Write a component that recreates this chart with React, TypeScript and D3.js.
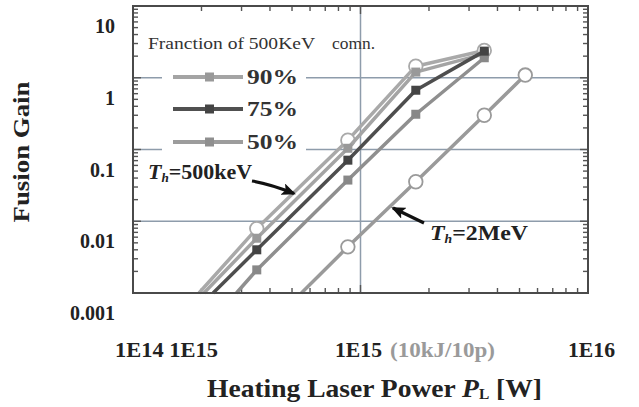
import * as d3 from 'd3';

// power [W] of the computed points
const POWER_500 = [3.5e14, 8.8e14, 1.75e15, 3.5e15];
const POWER_2MEV = [8.8e14, 1.75e15, 3.5e15, 5.3e15];

// fusion gain
const GAIN_REF = [0.0079, 0.135, 1.45, 2.4]; // open circles, 500keV
const GAIN_90 = [0.0058, 0.104, 1.2, 2.15];
const GAIN_75 = [0.004, 0.071, 0.67, 2.35];
const GAIN_50 = [0.0021, 0.0375, 0.31, 1.9];
const GAIN_2MEV = [0.0044, 0.0355, 0.3, 1.09];

// where each curve leaves the bottom of the frame (gain = 0.001)
const ENTRY_POWER = [1.95e14, 2.05e14, 2.25e14, 2.85e14, 5.5e14];
const FLOOR_GAIN = 0.001;

const Y_TICKS = [10, 1, 0.1, 0.01, 0.001];
const Y_TICK_LABELS = ['10', '1', '0.1', '0.01', '0.001'];
const Y_GRID = [1, 0.1, 0.01];
const X_GRID = [1e15];
const LEGEND_LABELS = ['90%', '75%', '50%'];

const W = 639;
const H = 407;
const M = { left: 133, top: 6, right: 588, bottom: 293 };
const FONT = '"Liberation Serif", "Times New Roman", serif';

const x = d3.scaleLog().domain([1e14, 1e16]).range([M.left, M.right]);
const y = d3.scaleLog().domain([0.001, 10]).range([M.bottom, M.top]);

type Pt = { p: number; g: number };
const line = d3
  .line<Pt>()
  .x((d) => x(d.p))
  .y((d) => y(d.g));

const SERIES = [
  { key: 'ref', power: POWER_500, gain: GAIN_REF, entry: ENTRY_POWER[0], color: '#a9a9a9', marker: 'circle', mfill: '#fff' },
  { key: 'g90', power: POWER_500, gain: GAIN_90, entry: ENTRY_POWER[1], color: '#a4a4a4', marker: 'square', mfill: '#999' },
  { key: 'g50', power: POWER_500, gain: GAIN_50, entry: ENTRY_POWER[3], color: '#8f8f8f', marker: 'square', mfill: '#888' },
  { key: 'g75', power: POWER_500, gain: GAIN_75, entry: ENTRY_POWER[2], color: '#4e4e4e', marker: 'square', mfill: '#444' },
  { key: 'mev2', power: POWER_2MEV, gain: GAIN_2MEV, entry: ENTRY_POWER[4], color: '#9a9a9a', marker: 'circle', mfill: '#fff' },
];

const LEGEND_STYLE = [
  { color: '#a4a4a4', mfill: '#999' },
  { color: '#505050', mfill: '#444' },
  { color: '#9c9c9c', mfill: '#8f8f8f' },
];

function Marker({ cx, cy, kind, fill, stroke }: any) {
  if (kind === 'circle') {
    return <circle cx={cx} cy={cy} r={6.8} fill={fill} stroke={stroke} strokeWidth={1.8} />;
  }
  return <rect x={cx - 4.5} y={cy - 4.5} width={9} height={9} fill={fill} />;
}

export default function App() {
  const xTicks = x.ticks();
  const yTicks = y.ticks();
  const isMajor = (v: number) => Math.abs(Math.log10(v) - Math.round(Math.log10(v))) < 1e-6;

  return (
    <svg
      width={W}
      height={H}
      style={{ position: 'absolute', left: 0, top: 0, background: '#fff' }}
      fontFamily={FONT}
    >
      <defs>
        <marker
          id="head"
          viewBox="0 0 14 12"
          refX="12"
          refY="6"
          markerUnits="userSpaceOnUse"
          markerWidth="14"
          markerHeight="12"
          orient="auto"
        >
          <path d="M0,0 L14,6 L0,12 L3,6 z" fill="#111" />
        </marker>
      </defs>

      {/* grid */}
      {Y_GRID.map((v) => (
        <line key={'gy' + v} x1={M.left} x2={M.right} y1={y(v)} y2={y(v)} stroke="#8e9cab" strokeWidth={1.5} />
      ))}
      {X_GRID.map((v) => (
        <line key={'gx' + v} x1={x(v)} x2={x(v)} y1={M.top} y2={M.bottom} stroke="#8e9cab" strokeWidth={1.5} />
      ))}

      {/* legend backdrop hides the gridlines */}
      <rect x={162} y={60} width={144} height={96} fill="#fff" />

      {/* ticks */}
      {xTicks.map((v, i) => {
        const len = isMajor(v) ? 8 : 5;
        return (
          <g key={'xt' + i} stroke="#555" strokeWidth={1.4}>
            <line x1={x(v)} x2={x(v)} y1={M.top} y2={M.top + len} />
            <line x1={x(v)} x2={x(v)} y1={M.bottom} y2={M.bottom - len} />
          </g>
        );
      })}
      {yTicks.map((v, i) => {
        const len = isMajor(v) ? 8 : 5;
        return (
          <g key={'yt' + i} stroke="#555" strokeWidth={1.4}>
            <line x1={M.left} x2={M.left + len} y1={y(v)} y2={y(v)} />
            <line x1={M.right} x2={M.right - len} y1={y(v)} y2={y(v)} />
          </g>
        );
      })}

      {/* curves */}
      {SERIES.map((s) => {
        const pts: Pt[] = [{ p: s.entry, g: FLOOR_GAIN }, ...s.power.map((p, i) => ({ p, g: s.gain[i] }))];
        return (
          <g key={s.key}>
            <path d={line(pts) || ''} fill="none" stroke={s.color} strokeWidth={3.5} strokeLinejoin="round" />
            {s.power.map((p, i) => (
              <Marker key={i} cx={x(p)} cy={y(s.gain[i])} kind={s.marker} fill={s.mfill} stroke={s.color} />
            ))}
          </g>
        );
      })}

      {/* frame */}
      <rect
        x={M.left}
        y={M.top}
        width={M.right - M.left}
        height={M.bottom - M.top}
        fill="none"
        stroke="#4a4a4a"
        strokeWidth={2}
      />

      {/* legend */}
      <text x={148} y={49} fontSize={16} fill="#333" textLength={167} lengthAdjust="spacingAndGlyphs">
        Franction of 500KeV
      </text>
      <text x={332} y={49} fontSize={16} fill="#333" textLength={43} lengthAdjust="spacingAndGlyphs">
        comn.
      </text>
      {LEGEND_LABELS.map((lab, i) => {
        const cy = [77, 109, 142][i];
        const st = LEGEND_STYLE[i];
        return (
          <g key={lab}>
            <line x1={173} x2={243} y1={cy} y2={cy} stroke={st.color} strokeWidth={4} />
            <rect x={205} y={cy - 4.5} width={9} height={9} fill={st.mfill} />
            <text x={247} y={cy + 7} fontSize={20} fontWeight="bold" fill="#333" textLength={51} lengthAdjust="spacingAndGlyphs">
              {lab}
            </text>
          </g>
        );
      })}

      {/* annotations */}
      <text x={148} y={179} fontSize={20} fontWeight="bold" fill="#222" textLength={104} lengthAdjust="spacingAndGlyphs">
        <tspan fontStyle="italic">T</tspan>
        <tspan fontStyle="italic" fontSize={12} dy={3}>h</tspan>
        <tspan dy={-3}>=500keV</tspan>
      </text>
      <path d="M252,181 Q270,184 294,193.5" fill="none" stroke="#111" strokeWidth={3.2} markerEnd="url(#head)" />

      <text x={430} y={240} fontSize={21} fontWeight="bold" fill="#222" textLength={98} lengthAdjust="spacingAndGlyphs">
        <tspan fontStyle="italic">T</tspan>
        <tspan fontStyle="italic" fontSize={12} dy={3}>h</tspan>
        <tspan dy={-3}>=2MeV</tspan>
      </text>
      <path d="M424,223 L393,208" fill="none" stroke="#111" strokeWidth={3.2} markerEnd="url(#head)" />

      {/* y tick labels */}
      {Y_TICKS.map((v, i) => (
        <text key={'yl' + v} x={115} y={y(v) + 27} textAnchor="end" fontSize={20} fontWeight="bold" fill="#222">
          {Y_TICK_LABELS[i]}
        </text>
      ))}

      {/* x tick labels */}
      <text x={115} y={357} fontSize={20} fontWeight="bold" fill="#222" textLength={103} lengthAdjust="spacingAndGlyphs">
        1E14 1E15
      </text>
      <text x={335} y={357} fontSize={20} fontWeight="bold" fill="#222" textLength={47} lengthAdjust="spacingAndGlyphs">
        1E15
      </text>
      <text x={390} y={357} fontSize={20} fontWeight="bold" fill="#9a9a9a" textLength={105} lengthAdjust="spacingAndGlyphs">
        (10kJ/10p)
      </text>
      <text x={568} y={357} fontSize={20} fontWeight="bold" fill="#222" textLength={47} lengthAdjust="spacingAndGlyphs">
        1E16
      </text>

      {/* axis titles */}
      <text
        transform="translate(29,152) rotate(-90)"
        textAnchor="middle"
        fontSize={23}
        fontWeight="bold"
        fill="#222"
        textLength={141}
        lengthAdjust="spacingAndGlyphs"
      >
        Fusion Gain
      </text>
      <text x={207} y={397} fontSize={25} fontWeight="bold" fill="#222" textLength={335} lengthAdjust="spacingAndGlyphs">
        Heating Laser Power <tspan fontStyle="italic">P</tspan>
        <tspan fontSize={14} dy={2}>L</tspan>
        <tspan dy={-2}>  [W]</tspan>
      </text>
    </svg>
  );
}
